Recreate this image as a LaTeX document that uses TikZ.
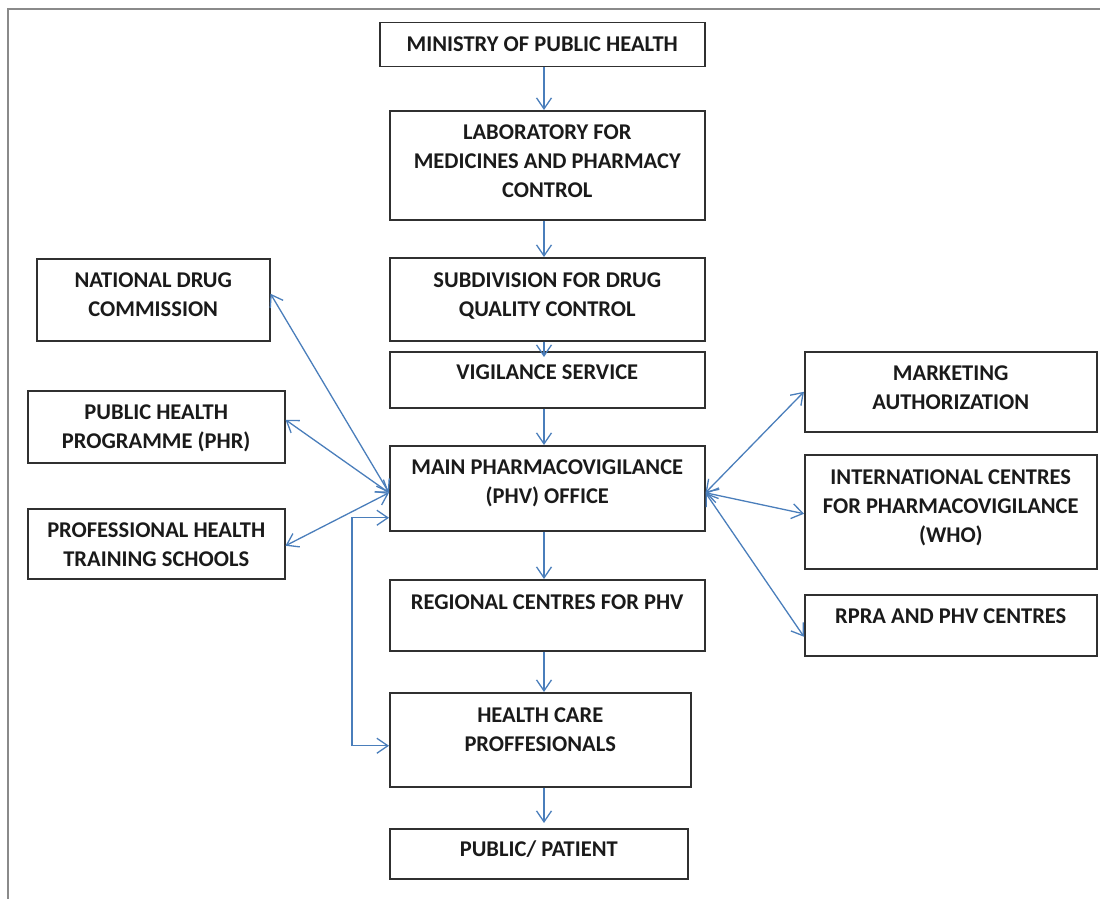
\documentclass[tikz,border=0pt]{standalone}
\usepackage{fontspec}
\setmainfont{Carlito}
\usetikzlibrary{arrows.meta}
\definecolor{arrc}{HTML}{4A7EBB}
\definecolor{boxc}{HTML}{303030}
\definecolor{txtc}{HTML}{1A1A1A}
\definecolor{framec}{HTML}{8A8A8A}
\begin{document}
\begin{tikzpicture}[x=1pt,y=-1pt,
  box/.style={draw=boxc, line width=1.5pt, inner sep=0pt, anchor=north west},
  lbl/.style={font=\bfseries\fontsize{22.5}{29}\selectfont, align=center, inner sep=0pt, anchor=north, text=txtc},
  arr/.style={draw=arrc, line width=1.3pt, -{Straight Barb[length=11pt,width=15pt]}},
  darr/.style={draw=arrc, line width=1.3pt, {Straight Barb[length=11pt,width=15pt]}-{Straight Barb[length=11pt,width=15pt]}}]
\useasboundingbox (0,0) rectangle (1100,899);
\draw[framec, line width=1.5pt] (8,899) -- (8,9) -- (1100,9);

% central column
\node[box, minimum width=325pt, minimum height=44pt] (min) at (379,22) {};
\node[box, minimum width=315pt, minimum height=109pt] (lab) at (389,110) {};
\node[box, minimum width=315pt, minimum height=83pt] (sub) at (389,257) {};
\node[box, minimum width=315pt, minimum height=56pt] (vig) at (389,351) {};
\node[box, minimum width=315pt, minimum height=85pt] (main) at (389,445) {};
\node[box, minimum width=315pt, minimum height=71pt] (reg) at (389,579) {};
\node[box, minimum width=301pt, minimum height=94pt] (hc) at (389,692) {};
\node[box, minimum width=298pt, minimum height=50pt] (pub) at (389,828) {};
% left column
\node[box, minimum width=233pt, minimum height=82pt] (nat) at (36,258) {};
\node[box, minimum width=257pt, minimum height=72pt] (phr) at (27,390) {};
\node[box, minimum width=257pt, minimum height=70pt] (prof) at (27,508) {};
% right column
\node[box, minimum width=292pt, minimum height=80pt] (mkt) at (804,351) {};
\node[box, minimum width=292pt, minimum height=114pt] (intl) at (804,454) {};
\node[box, minimum width=292pt, minimum height=61pt] (rpra) at (804,594) {};

% labels
\node[lbl] (minT) at ([yshift=-14.75pt]min.north) {MINISTRY OF PUBLIC HEALTH};
\node[lbl] (labT) at ([yshift=-14.75pt]lab.north) {LABORATORY FOR\\MEDICINES AND PHARMACY\\CONTROL};
\node[lbl] (subT) at ([yshift=-15.5pt]sub.north) {SUBDIVISION FOR DRUG\\QUALITY CONTROL};
\node[lbl] (vigT) at ([yshift=-14pt]vig.north) {VIGILANCE SERVICE};
\node[lbl] (mainT) at ([yshift=-14.75pt]main.north) {MAIN PHARMACOVIGILANCE\\(PHV) OFFICE};
\node[lbl] (regT) at ([yshift=-15.5pt]reg.north) {REGIONAL CENTRES FOR PHV};
\node[lbl] (hcT) at ([yshift=-15.5pt]hc.north) {HEALTH CARE\\PROFFESIONALS};
\node[lbl] (pubT) at ([yshift=-12.5pt]pub.north) {PUBLIC/ PATIENT};
\node[lbl] (natT) at ([yshift=-14.75pt]nat.north) {NATIONAL DRUG\\COMMISSION};
\node[lbl] (phrT) at ([yshift=-14.75pt]phr.north) {PUBLIC HEALTH\\PROGRAMME (PHR)};
\node[lbl] (profT) at ([yshift=-14.75pt]prof.north) {PROFESSIONAL HEALTH\\TRAINING SCHOOLS};
\node[lbl] (mktT) at ([yshift=-14.75pt]mkt.north) {MARKETING\\AUTHORIZATION};
\node[lbl] (intlT) at ([yshift=-16pt]intl.north) {INTERNATIONAL CENTRES\\FOR PHARMACOVIGILANCE\\(WHO)};
\node[lbl] (rpraT) at ([yshift=-14.75pt]rpra.north) {RPRA AND PHV CENTRES};

% vertical flow
\coordinate (ax) at (544,0);
\path (vig.north -| ax) ++(0,6) coordinate (vigin);
\path (pub.north -| ax) ++(0,-5) coordinate (pubin);
\draw[arr] (min.south -| ax) -- (lab.north -| ax);
\draw[arr] (lab.south -| ax) -- (sub.north -| ax);
\draw[arr] (sub.south -| ax) -- (vigin);
\draw[arr] (vig.south -| ax) -- (main.north -| ax);
\draw[arr] (main.south -| ax) -- (reg.north -| ax);
\draw[arr] (reg.south -| ax) -- (hc.north -| ax);
\draw[arr] (hc.south -| ax) -- (pubin);

% left links
\draw[darr] ([yshift=6pt]nat.east) -- ([yshift=-4.5pt]main.west);
\draw[darr] ([yshift=7pt]phr.east) -- ([yshift=-4.5pt]main.west);
\draw[darr] ([yshift=-2pt]prof.east) -- ([yshift=-4.5pt]main.west);
\draw[darr] ([yshift=-29.5pt]main.west) -- ++(-37,0) |- ([yshift=-6pt]hc.west);

% right links
\draw[darr] ([yshift=-4.5pt]main.east) -- (mkt.west);
\draw[darr] ([yshift=-4.5pt]main.east) -- ([yshift=-2pt]intl.west);
\draw[darr] ([yshift=-4.5pt]main.east) -- ([yshift=-11.5pt]rpra.west);
\end{tikzpicture}
\end{document}
